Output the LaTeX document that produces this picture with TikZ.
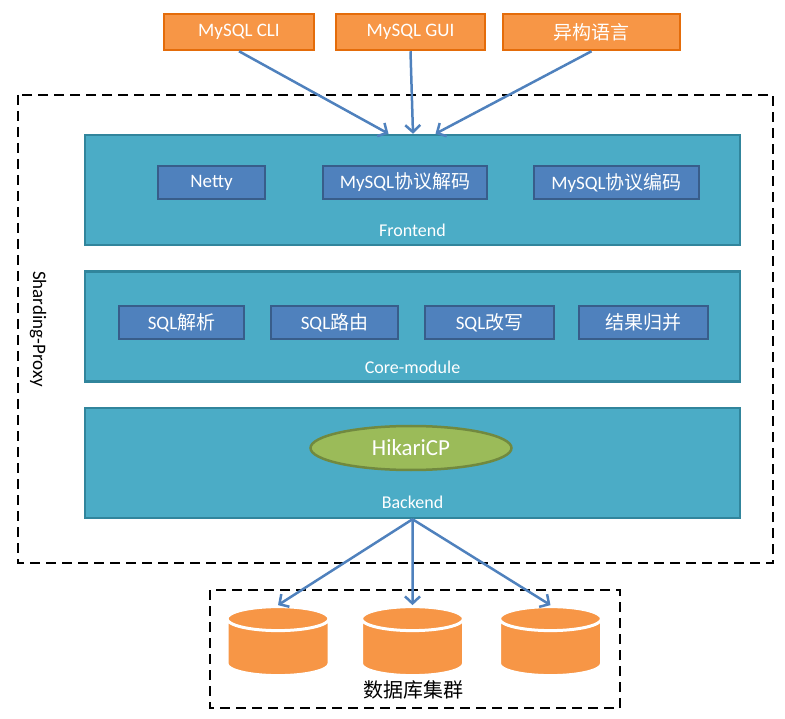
\documentclass[tikz,border=0pt]{standalone}
\usepackage{fontspec}
\setmainfont{Carlito}
\newfontfamily\cjk{Noto Sans CJK SC}
\usepackage{xcolor}
\usepackage{tikz}
\usetikzlibrary{shapes.geometric, arrows.meta}
\definecolor{orfill}{HTML}{F79646}
\definecolor{ordraw}{HTML}{E46C0A}
\definecolor{tealfill}{HTML}{4BACC6}
\definecolor{tealdraw}{HTML}{31859C}
\definecolor{modfill}{HTML}{4F81BD}
\definecolor{moddraw}{HTML}{385D8A}
\definecolor{poolfill}{HTML}{9BBB59}
\definecolor{pooldraw}{HTML}{71893F}
\definecolor{arrowblue}{HTML}{4F81BD}
\tikzstyle{client} = [rectangle, minimum height=36pt, text centered, draw=ordraw, line width=2.5pt, fill=orfill, text=white, font=\fontsize{19}{22}\selectfont]
\tikzstyle{layer} = [rectangle, minimum width=655pt, minimum height=110pt, draw=tealdraw, line width=2.5pt, fill=tealfill]
\tikzstyle{module} = [rectangle, minimum height=33pt, text centered, draw=moddraw, line width=2.5pt, fill=modfill, text=white, font=\fontsize{19}{22}\selectfont]
\tikzstyle{layername} = [text=white, font=\fontsize{18}{22}\selectfont]
\tikzstyle{pool} = [ellipse, minimum width=201pt, minimum height=44pt, draw=pooldraw, line width=2.5pt, fill=poolfill, text=white, font=\fontsize{23}{26}\selectfont]
\tikzstyle{db} = [cylinder, shape border rotate=90, aspect=3.6, minimum width=102pt, minimum height=69pt, draw=white, line width=3pt, fill=orfill]
\tikzstyle{group} = [draw=black, line width=2.5pt, dash pattern=on 10pt off 6pt]
\tikzstyle{arrow} = [line width=2.5pt, draw=arrowblue, ->, >={Straight Barb[length=7pt, width=15pt]}]

\begin{document}
\begin{tikzpicture}[x=1pt, y=1pt, node distance=136.5pt]
	\useasboundingbox (0,0) rectangle (785,-719);
	
	\draw [group] (18,-95) rectangle (773,-563);
	\node (proxy) at (38,-329) [rotate=-90, font=\fontsize{19}{22}\selectfont] {Sharding-Proxy};
	
	\node (cli) at (239,-32) [client, minimum width=150pt] {MySQL CLI};
	\node (gui) at (410.5,-32) [client, minimum width=149pt] {MySQL GUI};
	\node (lang) at (591.5,-32) [client, minimum width=177pt] {\cjk 异构语言};
	
	\node (front) at (412.5,-190) [layer] {};
	\node (core) [layer, below of = front] {};
	\node (back) [layer, below of = core] {};
	
	\node (netty) at (211.5,-182.5) [module, minimum width=107pt] {Netty};
	\node (decode) at (405,-182.5) [module, minimum width=164pt] {MySQL{\cjk 协议解码}};
	\node (encode) at (616.5,-182.5) [module, minimum width=165pt] {MySQL{\cjk 协议编码}};
	\node (frontname) at (412.5,-230) [layername] {Frontend};
	
	\node (parse) at (181.5,-322.5) [module, minimum width=125pt] {SQL{\cjk 解析}};
	\node (route) at (334.5,-322.5) [module, minimum width=127pt] {SQL{\cjk 路由}};
	\node (rewrite) at (489.5,-322.5) [module, minimum width=129pt] {SQL{\cjk 改写}};
	\node (merge) at (643.5,-322.5) [module, minimum width=129pt] {\cjk 结果归并};
	\node (corename) at (412.5,-367) [layername] {Core-module};
	
	\node (hikari) at (411,-448) [pool] {HikariCP};
	\node (backname) at (412.5,-502) [layername] {Backend};
	
	\draw [arrow] (cli.south) -- ([xshift=-24pt]front.north);
	\draw [arrow] (gui.south) -- ([xshift=0.5pt]front.north);
	\draw [arrow] (lang.south) -- ([xshift=23pt]front.north);
	
	\draw [group] (210,-590) rectangle (620,-708);
	\node (db1) at (278,-650) [db] {};
	\node (db2) at (412.5,-650) [db] {};
	\node (db3) at (550.5,-650) [db] {};
	\node (cluster) at (413,-690) [font=\fontsize{20}{24}\selectfont] {\cjk 数据库集群};
	
	\draw [arrow] (back.south) -- (db1.north);
	\draw [arrow] (back.south) -- (db2.north);
	\draw [arrow] (back.south) -- (db3.north);
	
\end{tikzpicture}
\end{document}
